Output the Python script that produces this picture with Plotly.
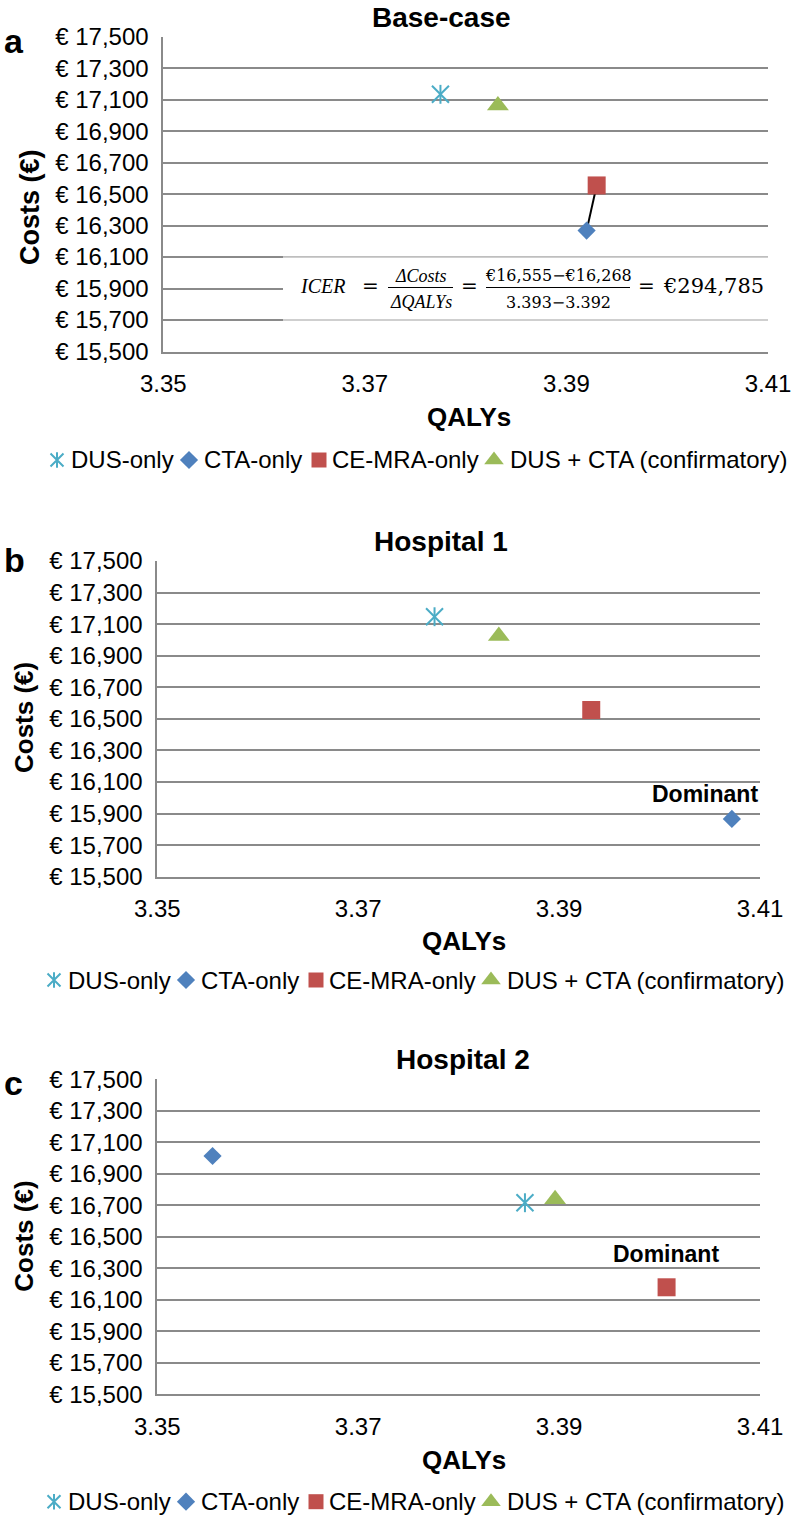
import plotly.graph_objects as go

W, H = 796, 1518

# ---------------- data ----------------
strategies = ["DUS-only", "CTA-only", "CE-MRA-only", "DUS + CTA (confirmatory)"]
colors = ["#4BACC6", "#4F81BD", "#C0504D", "#9BBB59"]

panel_titles = ["Base-case", "Hospital 1", "Hospital 2"]
panel_letters = ["a", "b", "c"]

base_qalys = [3.3775, 3.392, 3.393, 3.3832]
base_costs = [17134, 16268, 16555, 17063]
h1_qalys = [3.3776, 3.4072, 3.3932, 3.3840]
h1_costs = [17147, 15866, 16556, 17025]
h2_qalys = [3.3866, 3.3555, 3.4007, 3.3896]
h2_costs = [16716, 17013, 16179, 16738]

x_ticks = [3.35, 3.37, 3.39, 3.41]
y_ticks = list(range(15500, 17501, 200))

icer_value = 294785
dominant_strategy = [None, 1, 2]   # index of the dominant strategy in each panel
dominant_label = "Dominant"

panels_q = [base_qalys, h1_qalys, h2_qalys]
panels_c = [base_costs, h1_costs, h2_costs]

# ---------------- layout geometry (pixels) ----------------
P = [
    dict(l=163.3, r=768, t=36.7, b=351.5, tx=441, ty=17, ly=41.5,
         cx=30, cy=207, cs=27, qx=469, qy=416.7, legy=460, legdx=3,
         dshift=(0, 0)),
    dict(l=157.3, r=760, t=561, b=876.7, tx=440.5, ty=541.7, ly=560,
         cx=24, cy=718, cs=26, qx=463.5, qy=941, legy=980, legdx=0,
         dshift=(-27, 25)),
    dict(l=157.3, r=760, t=1079.3, b=1394.2, tx=462.5, ty=1059, ly=1083,
         cx=24, cy=1236.7, cs=26, qx=463.5, qy=1460, legy=1501.7, legdx=0,
         dshift=(-1, 33)),
]

SANS = "Liberation Sans, Arial, sans-serif"
SERIF = "Liberation Serif, Times New Roman, serif"
DSERIF = "DejaVu Serif, serif"
GRID = "#8a8a8a"


def fx(px):
    return px / W


def fy(py):
    return 1 - py / H


fig = go.Figure()
annotations = []
shapes = []

sizes = {1: 14, 2: 18, 3: 19}
symbols = {1: "diamond", 2: "square", 3: "triangle-up"}


def asterisk(x, y, xa, ya, s_x, s_l, hover=True):
    for sym, sz in (("x-thin-open", s_x), ("line-ns-open", s_l)):
        fig.add_trace(go.Scatter(x=x, y=y, mode="markers",
                                 marker=dict(symbol=sym, size=sz, color=colors[0],
                                             line=dict(color=colors[0], width=2)),
                                 showlegend=False, xaxis=xa, yaxis=ya,
                                 name=strategies[0], cliponaxis=False,
                                 hoverinfo=None if hover else "skip"))


for k in range(3):
    g = P[k]
    xa = "x" if k == 0 else f"x{k+1}"
    ya = "y" if k == 0 else f"y{k+1}"
    q, c = panels_q[k], panels_c[k]

    if k == 0:
        # connecting line CTA-only -> CE-MRA-only
        fig.add_trace(go.Scatter(x=[q[1], q[2]], y=[c[1], c[2]], mode="lines",
                                 line=dict(color="black", width=2),
                                 showlegend=False, hoverinfo="skip",
                                 xaxis=xa, yaxis=ya))
    asterisk([q[0]], [c[0]], xa, ya, 17, 13.5)
    for i in (1, 2, 3):
        fig.add_trace(go.Scatter(x=[q[i]], y=[c[i]], mode="markers",
                                 marker=dict(symbol=symbols[i], size=sizes[i],
                                             color=colors[i], line=dict(width=0)),
                                 showlegend=False, xaxis=xa, yaxis=ya,
                                 name=strategies[i], cliponaxis=False))

    axis_x = dict(domain=[fx(g["l"]), fx(g["r"])], range=[x_ticks[0], x_ticks[-1]],
                  tickvals=x_ticks, ticktext=[f"{v:.2f}" for v in x_ticks],
                  showgrid=False, zeroline=False, showline=True,
                  linecolor=GRID, linewidth=1.8, ticks="",
                  ticklabelstandoff=10, automargin=False,
                  tickfont=dict(family=SANS, size=24, color="black"),
                  anchor=ya)
    axis_y = dict(domain=[fy(g["b"]), fy(g["t"])], range=[y_ticks[0], y_ticks[-1]],
                  tickvals=y_ticks, ticktext=[f"€ {v:,}" for v in y_ticks],
                  showgrid=True, gridcolor=GRID, gridwidth=1.8, zeroline=False,
                  showline=True, linecolor=GRID, linewidth=1.8, ticks="",
                  ticklabelstandoff=8, automargin=False,
                  tickfont=dict(family=SANS, size=24, color="black"),
                  anchor=xa)
    fig.update_layout(**{("xaxis" if k == 0 else f"xaxis{k+1}"): axis_x,
                         ("yaxis" if k == 0 else f"yaxis{k+1}"): axis_y})

    # titles / labels
    annotations.append(dict(text=f"<b>{panel_titles[k]}</b>", x=fx(g["tx"]), y=fy(g["ty"]),
                            xref="paper", yref="paper", showarrow=False,
                            xanchor="center", yanchor="middle",
                            font=dict(family=SANS, size=28, color="black")))
    annotations.append(dict(text=f"<b>{panel_letters[k]}</b>", x=fx(2), y=fy(g["ly"]),
                            xref="paper", yref="paper", showarrow=False,
                            xanchor="left", yanchor="middle",
                            font=dict(family=SANS, size=34, color="black")))
    annotations.append(dict(text="<b>Costs (€)</b>", x=fx(g["cx"]), y=fy(g["cy"]),
                            xref="paper", yref="paper", showarrow=False, textangle=-90,
                            xanchor="center", yanchor="middle",
                            font=dict(family=SANS, size=g["cs"], color="black")))
    annotations.append(dict(text="<b>QALYs</b>", x=fx(g["qx"]), y=fy(g["qy"]),
                            xref="paper", yref="paper", showarrow=False,
                            xanchor="center", yanchor="middle",
                            font=dict(family=SANS, size=26, color="black")))
    d = dominant_strategy[k]
    if d is not None:
        annotations.append(dict(text=f"<b>{dominant_label}</b>", x=q[d], y=c[d],
                                xref=xa, yref=ya, showarrow=False,
                                xshift=g["dshift"][0], yshift=g["dshift"][1],
                                xanchor="center", yanchor="middle",
                                font=dict(family=SANS, size=23, color="black")))

    # manual legend
    leg_sym_x = [54, 186, 316, 491]
    leg_txt_x = [66, 199, 327, 505]
    ly = g["legy"]
    dx = g["legdx"]
    lx_sym = [v + dx for v in leg_sym_x]
    asterisk([lx_sym[0]], [ly], "x4", "y4", 13, 11, hover=False)
    leg_sizes = {1: 14, 2: 15, 3: 17}
    for i in (1, 2, 3):
        fig.add_trace(go.Scatter(x=[lx_sym[i]], y=[ly], mode="markers",
                                 marker=dict(symbol=symbols[i], size=leg_sizes[i],
                                             color=colors[i], line=dict(width=0)),
                                 showlegend=False, hoverinfo="skip",
                                 xaxis="x4", yaxis="y4", cliponaxis=False))
    for i in range(4):
        annotations.append(dict(text=strategies[i], x=fx(leg_txt_x[i] + dx), y=fy(ly),
                                xref="paper", yref="paper", showarrow=False,
                                xanchor="left", yanchor="middle",
                                font=dict(family=SANS, size=24, color="black")))

# ---------------- ICER box (panel a) ----------------
box_l, box_r = 283, 768
shapes.append(dict(type="rect", xref="paper", yref="y", x0=fx(box_l), x1=fx(box_r),
                   y0=15700, y1=16100, fillcolor="white", line=dict(width=0),
                   layer="above"))
for yv in (15700, 16100):
    shapes.append(dict(type="line", xref="paper", yref="y", x0=fx(box_l), x1=fx(box_r),
                       y0=yv, y1=yv, line=dict(color="#cfcfcf", width=1.8),
                       layer="above"))


def ann(text, x, y, family, size, xanchor="center"):
    annotations.append(dict(text=text, x=fx(x), y=fy(y), xref="paper", yref="paper",
                            showarrow=False, xanchor=xanchor, yanchor="middle",
                            font=dict(family=family, size=size, color="black")))


main_y = 286
num_y, den_y, bar_y = 275.5, 302, 287.5
ann("<i>ICER</i>", 322.5, main_y, SERIF, 20)
ann("=", 370, main_y, DSERIF, 20)
ann("<i>ΔCosts</i>", 420.5, num_y, SERIF, 18)
ann("<i>ΔQALYs</i>", 420.5, den_y, SERIF, 18)
ann("=", 469, main_y, DSERIF, 20)
num_txt = f"€{base_costs[2]:,}−€{base_costs[1]:,}"
den_txt = f"{base_qalys[2]:.3f}−{base_qalys[1]:.3f}"
ann(num_txt, 558, num_y, DSERIF, 16)
ann(den_txt, 558, den_y, DSERIF, 16)
ann("=", 646.7, main_y, DSERIF, 20)
ann(f"€{icer_value:,}", 713.7, main_y, DSERIF, 21)
for (a0, a1) in ((388, 453), (486, 630)):
    shapes.append(dict(type="line", xref="paper", yref="paper", x0=fx(a0), x1=fx(a1),
                       y0=fy(bar_y), y1=fy(bar_y), line=dict(color="black", width=1.2),
                       layer="above"))

fig.update_layout(
    width=W, height=H, margin=dict(l=0, r=0, t=0, b=0),
    paper_bgcolor="white", plot_bgcolor="rgba(0,0,0,0)",
    showlegend=False,
    xaxis4=dict(domain=[0, 1], range=[0, W], visible=False, fixedrange=True,
                anchor="y4", automargin=False),
    yaxis4=dict(domain=[0, 1], range=[H, 0], visible=False, fixedrange=True,
                anchor="x4", automargin=False),
    annotations=annotations,
    shapes=shapes,
)

fig.write_html("out.html",
               config={"displayModeBar": False},
               post_script="document.body.style.margin='0';"
                           "document.body.style.overflow='hidden';")
